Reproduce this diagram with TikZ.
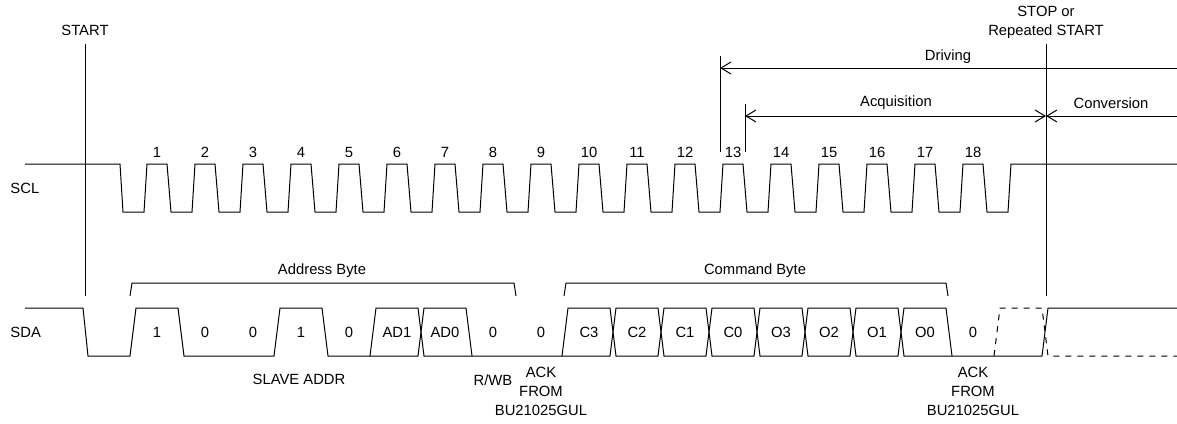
\documentclass[tikz,border=0pt]{standalone}
\usepackage{fontspec}
\setmainfont{Liberation Sans}
\usetikzlibrary{arrows.meta, positioning}

\begin{document}
\begin{tikzpicture}[x=0.5pt, y=-0.5pt, line width=0.5pt,
    lbl/.style={font=\fontsize{7.4}{9.5}\selectfont, inner sep=0pt, align=center},
    span/.style={-{Straight Barb[length=5pt, width=6pt]}},
    dblspan/.style={{Straight Barb[length=5pt, width=6pt]}-{Straight Barb[length=5pt, width=6pt]}}]
    \useasboundingbox (0, 0) rectangle (1177, 423);
    % labels
    \node[lbl] (start) at (85, 30) {START};
    \node[lbl] (stop) at (1046, 22) {STOP or\\Repeated START};
    \node[lbl, anchor=west] (scl) at (10, 188) {SCL};
    \node[lbl, anchor=west] (sda) at (10, 332) {SDA};
    \node[lbl] (drv) at (948, 57) {Driving};
    \node[lbl] (acq) at (896, 103) {Acquisition};
    \node[lbl] (conv) at (1111, 103) {Conversion};
    \node[lbl] (addrbyte) at (322, 271) {Address Byte};
    \node[lbl] (cmdbyte) at (755, 271) {Command Byte};
    \node[lbl] (slave) at (299, 379) {SLAVE ADDR};
    \node[lbl] (rw) at (493, 380) {R/WB};
    \node[lbl] (ack1) at (541, 391) {ACK\\FROM\\BU21025GUL};
    \node[lbl] (ack2) at (973, 391) {ACK\\FROM\\BU21025GUL};
    \foreach \k in {1,...,18}
        \node[lbl] (clk\k) at ({157+48*(\k-1)}, 152) {\k};
    \foreach \t [count=\k from 0] in {1,0,0,1,0,AD1,AD0,0,0,C3,C2,C1,C0,O3,O2,O1,O0,0}
        \node[lbl] (bit\k) at ({157+48*\k}, 332) {\t};
    % markers
    \coordinate (startT) at (85, 44);
    \coordinate (startB) at (85, 296);
    \coordinate (stopT) at (1046, 44);
    \coordinate (stopB) at (1046, 296);
    \coordinate (drvT) at (720, 56);
    \coordinate (drvB) at (720, 152);
    \coordinate (drvL) at (720, 68);
    \coordinate (drvR) at (1177, 68);
    \coordinate (acqT) at (745, 104);
    \coordinate (acqB) at (745, 152);
    \coordinate (acqL) at (745, 116);
    \coordinate (acqR) at (1046, 116);
    \coordinate (convR) at (1177, 116);
    \draw (startT) -- (startB);
    \draw (stopT) -- (stopB);
    \draw (drvT) -- (drvB);
    \draw (acqT) -- (acqB);
    \draw[span] (drvR) -- (drvL);
    \draw[dblspan] (acqL) -- (acqR);
    \draw[span] (convR) -- (acqR);
    % SCL
    \draw (25, 164) -- (120, 164) -- (123, 212) -- (144, 212)
        foreach \k in {0,...,17} { -- ({147+48*\k}, 164) -- ({167+48*\k}, 164)
        -- ({171+48*\k}, 212) -- ({192+48*\k}, 212) }
        -- (1011, 164) -- (1177, 164);
    % SDA
    \draw (25, 308) -- (83, 308) -- (88, 356) -- (130, 356) -- (136, 308) -- (178, 308)
        -- (184, 356) -- (274, 356) -- (280, 308) -- (322, 308) -- (328, 356) -- (370, 356)
        -- (376, 308) -- (418, 308) -- (424, 356) -- (562, 356)
        -- (568, 308) -- (610, 308) -- (616, 356) -- (658, 356) -- (664, 308) -- (706, 308)
        -- (712, 356) -- (754, 356) -- (760, 308) -- (802, 308) -- (808, 356) -- (850, 356)
        -- (856, 308) -- (898, 308) -- (904, 356) -- (1042, 356) -- (1048, 308) -- (1177, 308);
    \draw (370, 356) -- (418, 356) -- (424, 308) -- (466, 308) -- (472, 356);
    \draw (562, 356) -- (610, 356) -- (616, 308) -- (658, 308) -- (664, 356) -- (706, 356)
        -- (712, 308) -- (754, 308) -- (760, 356) -- (802, 356) -- (808, 308) -- (850, 308)
        -- (856, 356) -- (898, 356) -- (904, 308) -- (946, 308) -- (952, 356);
    \draw[dashed] (994, 356) -- (1000, 308) -- (1042, 308) -- (1048, 356) -- (1177, 356);
    % byte brackets
    \draw (130, 296) -- (132, 283) -- (514, 283) -- (516, 296);
    \draw (564, 296) -- (566, 283) -- (946, 283) -- (948, 296);
\end{tikzpicture}
\end{document}
